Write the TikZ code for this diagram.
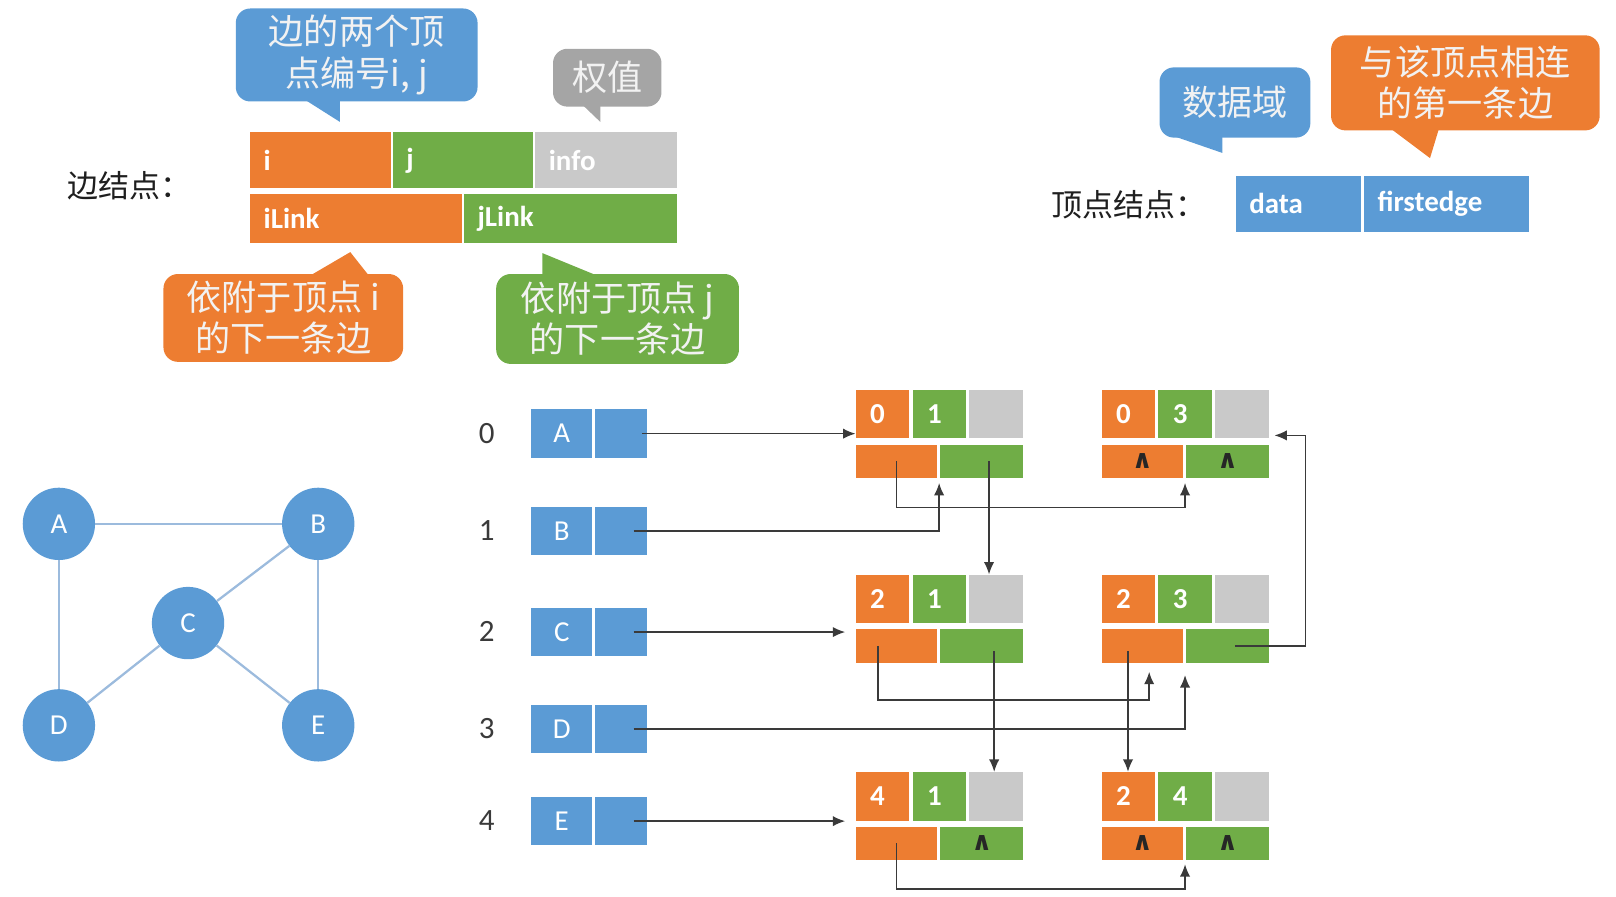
\documentclass[tikz,border=0pt]{standalone}
\usepackage{fontspec}
\setmainfont{Carlito}
\newfontfamily\cjk{Noto Sans CJK SC}
\newfontfamily\djv{DejaVu Sans}
\usetikzlibrary{arrows.meta,calc}
\definecolor{cor}{HTML}{ED7D31}
\definecolor{cgr}{HTML}{70AD47}
\definecolor{cgy}{HTML}{C9C9C9}
\definecolor{cbl}{HTML}{5B9BD5}
\definecolor{cgd}{HTML}{A5A5A5}
\definecolor{cln}{HTML}{3A3A3A}
\definecolor{ced}{HTML}{9CBBDD}
\newcommand\nul{{\djv\bfseries\fontsize{25}{25}\selectfont\color{black!85}∧}}
\newcommand\enode[7]{%
 \node[cell,fill=cor,minimum width=52pt,minimum height=47pt,text width=24pt,inner xsep=14pt] (#1a) at (#2,#3) {#4};
 \node[cell,fill=cgr,minimum width=52pt,minimum height=47pt,text width=24pt,inner xsep=14pt] (#1b) at (#2+55,#3) {#5};
 \node[cell,fill=cgy,minimum width=52pt,minimum height=47pt] (#1c) at (#2+110,#3) {};
 \node[cell,fill=cor,minimum width=79pt,minimum height=32pt] (#1l) at (#2,#3+53) {#6};
 \node[cell,fill=cgr,minimum width=80pt,minimum height=32pt] (#1r) at (#2+82,#3+53) {#7};}
\newcommand\vrow[3]{%
 \node[idx] (i#1) at (471,#3+23.5) {#1};
 \node[vcell,minimum width=59pt] (v#2d) at (514,#3) {#2};
 \node[vcell,minimum width=50pt] (v#2p) at (576,#3) {};}
\begin{document}
\begin{tikzpicture}[x=1pt,y=-1pt,
  cell/.style={rectangle,inner sep=0pt,anchor=north west,text=white,align=left,font=\fontsize{28}{32}\selectfont\bfseries},
  vcell/.style={rectangle,inner sep=0pt,anchor=north west,fill=cbl,minimum height=47pt,text=white,font=\fontsize{28}{32}\selectfont},
  idx/.style={text=cln,font=\fontsize{30}{32}\selectfont},
  lcell/.style={rectangle,anchor=north west,inner xsep=13pt,inner ysep=0pt,align=left,text=white,font=\fontsize{28}{32}\selectfont\bfseries},
  callout/.style={rectangle,rounded corners=14pt,anchor=north west,inner sep=0pt,align=center,text=white!95!black,font=\cjk\fontsize{34}{40}\selectfont},
  gv/.style={circle,fill=cbl,minimum size=70pt,inner sep=0pt,text=white,font=\fontsize{28}{32}\selectfont},
  gedge/.style={draw=ced,line width=2.2pt},
  arr/.style={draw=cln,line width=1.5pt,-{Latex[length=12pt,width=10pt]}},
  lbl/.style={text=black!88,font=\cjk\fontsize{30}{32}\selectfont}]
\useasboundingbox (0,0) rectangle (1564,868);

% ---- legend: edge node ----
\node[lbl] (elbl) at (125,180) {边结点：};
\node[lcell,fill=cor,minimum width=136pt,minimum height=54pt,text width=110pt] (li) at (242,128) {i};
\node[lcell,fill=cgr,minimum width=136pt,minimum height=54pt,text width=110pt] (lj) at (380,128) {j};
\node[lcell,fill=cgy,minimum width=137pt,minimum height=54pt,text width=111pt] (linfo) at (518,128) {info};
\node[lcell,fill=cor,minimum width=205pt,minimum height=47pt,text width=179pt] (lil) at (242,188) {iLink};
\node[lcell,fill=cgr,minimum width=206pt,minimum height=47pt,text width=180pt] (ljl) at (449,188) {jLink};

% callouts
\fill[cbl] (288,92) -- (329,92) -- (329,118) -- cycle;
\node[callout,fill=cbl,minimum width=234pt,minimum height=90pt] (c1) at (228,8) {边的两个顶\\点编号i, j};
\fill[cgd] (558,96) -- (581,96) -- (581,118) -- cycle;
\node[callout,fill=cgd,minimum width=105pt,minimum height=56pt] (c2) at (535,47) {权值};
\fill[cor] (298,268) -- (339,244) -- (358,268) -- cycle;
\node[callout,fill=cor,minimum width=232pt,minimum height=85pt] (c3) at (158,265) {依附于顶点 i\\的下一条边};
\fill[cgr] (525,268) -- (525,245) -- (581,268) -- cycle;
\node[callout,fill=cgr,minimum width=235pt,minimum height=87pt] (c4) at (480,265) {依附于顶点 j\\的下一条边};

% ---- legend: vertex node ----
\node[lbl] (vlbl) at (1093,198) {顶点结点：};
\node[lcell,fill=cbl,minimum width=121pt,minimum height=54pt,text width=95pt] (ldata) at (1196,170) {data};
\node[lcell,fill=cbl,minimum width=160pt,minimum height=54pt,text width=134pt] (lfirst) at (1320,170) {firstedge};
\fill[cbl] (1125,128) -- (1183,128) -- (1183,148) -- cycle;
\node[callout,fill=cbl,minimum width=146pt,minimum height=68pt] (c5) at (1122,65) {数据域};
\fill[cor] (1340,120) -- (1394,120) -- (1384,153) -- cycle;
\node[callout,fill=cor,minimum width=260pt,minimum height=92pt] (c6) at (1288,34) {与该顶点相连\\的第一条边};

% ---- graph ----
\node[gv] (gA) at (57,507) {A};
\node[gv] (gB) at (308,507) {B};
\node[gv] (gC) at (182,603) {C};
\node[gv] (gD) at (57,702) {D};
\node[gv] (gE) at (308,702) {E};
\draw[gedge] (gA) -- (gB);
\draw[gedge] (gA) -- (gD);
\draw[gedge] (gB) -- (gC);
\draw[gedge] (gC) -- (gD);
\draw[gedge] (gC) -- (gE);
\draw[gedge] (gB) -- (gE);

% ---- vertex list ----
\vrow{0}{A}{396}
\vrow{1}{B}{490}
\vrow{2}{C}{588}
\vrow{3}{D}{682}
\vrow{4}{E}{771}

% ---- edge nodes ----
\enode{n01}{828}{377}{0}{1}{}{}
\enode{n03}{1066}{377}{0}{3}{\nul}{\nul}
\enode{n21}{828}{556}{2}{1}{}{}
\enode{n23}{1066}{556}{2}{3}{}{}
\enode{n41}{828}{747}{4}{1}{}{\nul}
\enode{n24}{1066}{747}{2}{4}{\nul}{\nul}

% ---- connector anchors ----
\coordinate (sA) at ($(vAp.center)+(20,0)$);
\coordinate (sB) at ($(vBp.center)+(12,0)$);
\coordinate (sC) at ($(vCp.center)+(12,0)$);
\coordinate (sD) at ($(vDp.center)+(12,0)$);
\coordinate (sE) at ($(vEp.center)+(12,0)$);
\coordinate (s01r) at ($(n01r.center)+(7,0)$);
\coordinate (s21l) at ($(n21l.center)+(-18,0)$);
\coordinate (s21r) at ($(n21r.center)+(12,5)$);
\coordinate (s23l) at ($(n23l.center)+(-14,5)$);
\coordinate (s23r) at ($(n23r.center)+(7,0)$);
\coordinate (t01) at ($(n01l.south east)+(1.5,5)$);
\coordinate (t03) at ($(n03l.south east)+(1.5,5)$);
\coordinate (t23l) at ($(n23l.center)+(6.5,25)$);
\coordinate (t23m) at ($(n23l.south east)+(1.5,12)$);
\coordinate (t24) at ($(n24l.south east)+(1.5,4)$);
\coordinate (t03c) at ($(n03c.south east)+(5,-3)$);
\coordinate (k23) at ($(n23r.east)+(35,0)$);
\coordinate (tC) at ($(vCp.center -| n21l.west)+(-10,0)$);
\coordinate (tE) at ($(vEp.center -| n41l.west)+(-10,0)$);

% ---- connectors ----
\draw[arr] (sA) -- (vAp.center -| n01a.west);
\draw[arr] (sB) -| (t01);
\draw[arr] (n01l.center) -- ++(0,45) -| (t03);
\draw[arr] (s01r) -- (s01r |- n21c.north);
\draw[arr] (sC) -- (tC);
\draw[arr] (s21l) -- ++(0,52) -| (t23l);
\draw[arr] (s21r) -- (s21r |- n41c.north);
\draw[arr] (s23r) -- (k23) |- (t03c);
\draw[arr] (s23l) -- (s23l |- n24a.north);
\draw[arr] (sD) -| (t23m);
\draw[arr] (sE) -- (tE);
\draw[arr] (n41l.center) -- ++(0,44) -| (t24);
\end{tikzpicture}
\end{document}
